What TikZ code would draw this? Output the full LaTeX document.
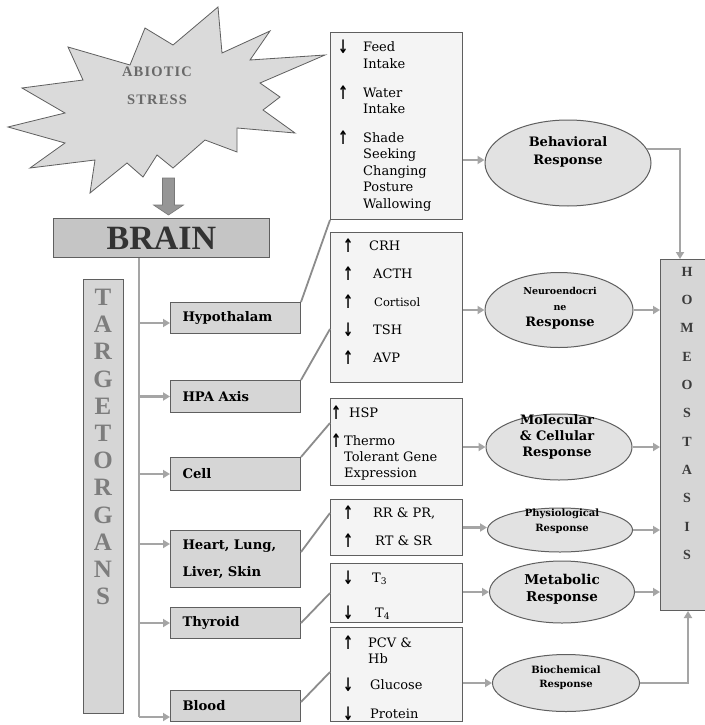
\documentclass[tikz,border=0pt]{standalone}
\usepackage{fontspec}
\usepackage{graphicx}
\setmainfont{DejaVu Serif}
\newfontfamily\timesf{Liberation Serif}
\newfontfamily\stressf{Liberation Serif}[LetterSpace=8]
\newfontfamily\symf{DejaVu Sans}
\usetikzlibrary{arrows.meta,shapes.geometric,calc}

\definecolor{edge}{RGB}{95,95,95}
\definecolor{conn}{RGB}{165,165,165}
\definecolor{slantc}{RGB}{140,140,140}
\definecolor{boxgray}{RGB}{214,214,214}
\definecolor{listgray}{RGB}{244,244,244}
\definecolor{ellgray}{RGB}{226,226,226}
\definecolor{stargray}{RGB}{218,218,218}
\definecolor{lettergray}{RGB}{125,125,125}
\definecolor{homtext}{RGB}{60,60,60}
\definecolor{stresstext}{RGB}{105,105,105}
\definecolor{blockarrow}{RGB}{150,150,150}

% small up / down arrows used in the lists
\newcommand{\upa}{\makebox[10pt]{\raisebox{-2pt}{\scalebox{1.05}[1.55]{\symf\bfseries\fontsize{12}{12}\selectfont ↑}}}}
\newcommand{\dna}{\makebox[10pt]{\raisebox{-2pt}{\scalebox{1.05}[1.55]{\symf\bfseries\fontsize{12}{12}\selectfont ↓}}}}

\begin{document}
\begin{tikzpicture}[x=1pt,y=-1pt,
  organ/.style={draw=edge, line width=1pt, fill=boxgray, anchor=north west,
    align=left, text width=106pt, inner xsep=12pt, inner ysep=0pt,
    font=\bfseries\fontsize{13.2}{27}\selectfont},
  listbox/.style={draw=edge, line width=1pt, fill=listgray, anchor=north west,
    minimum width=132pt, inner sep=0pt},
  listtext/.style={anchor=base west, inner sep=0pt},
  resp/.style={ellipse, draw=edge, line width=1pt, fill=ellgray, inner sep=0pt},
  resptext/.style={align=center, inner sep=0pt},
  garrow/.style={draw=conn, line width=2.6pt, -{Triangle[length=7pt,width=8pt]}},
  gline/.style={draw=conn, line width=2.6pt},
  slant/.style={draw=slantc, line width=1.8pt},
]
\useasboundingbox (0,0) rectangle (704,725);
\fill[white] (0,0) rectangle (704,725);

% ---------- abiotic stress burst ----------
\filldraw[fill=stargray, draw=edge, line width=0.8pt]
  (218,7) -- (222,53) -- (270,31) -- (250,60) -- (325,55) -- (260,83)
  -- (280,97) -- (263,110) -- (295,133) -- (237,128) -- (237,152)
  -- (205,140) -- (173,168) -- (157,155) -- (143,177) -- (127,163)
  -- (90,193) -- (95,160) -- (30,168) -- (65,143) -- (8,127) -- (65,113)
  -- (22,88) -- (83,80) -- (68,47) -- (130,65) -- (145,28) -- (173,45)
  -- cycle;
\node[inner sep=0pt, text=stresstext, font=\stressf\bfseries\fontsize{14.5}{14.5}\selectfont] (abio1) at (157,72) {ABIOTIC};
\node[inner sep=0pt, text=stresstext, font=\stressf\bfseries\fontsize{14.5}{14.5}\selectfont] (abio2) at (157,100) {STRESS};

% ---------- brain ----------
\node[draw=edge, line width=1pt, fill=boxgray!92!black, anchor=north west,
  minimum width=216pt, minimum height=39pt, inner sep=0pt,
  font=\timesf\bfseries\fontsize{34}{34}\selectfont, text=black!80] (brain) at (53,218) {BRAIN};

% block arrow from the burst into the brain
\begin{scope}[shift={(brain.north)}]
  \filldraw[fill=blockarrow, draw=blockarrow!80!black, line width=0.6pt]
    (1,-40) -- (13,-40) -- (13,-13) -- (22,-13) -- (7,-3) -- (-8,-13) -- (1,-13) -- cycle;
\end{scope}

% ---------- target organs column ----------
\node[draw=edge, line width=1pt, fill=boxgray, anchor=north west,
  minimum width=40pt, minimum height=434pt, inner sep=0pt] (tgbox) at (83,279) {};
\node[anchor=north, inner sep=0pt, align=center, text=lettergray,
  font=\timesf\bfseries\fontsize{25}{27.2}\selectfont] (tglbl) at (103,289)
  {T\\A\\R\\G\\E\\T\\O\\R\\G\\A\\N\\S};

% ---------- organs ----------
\node[organ, minimum height=31pt] (hyp) at (170,302) {Hypothalam};
\node[organ, minimum height=32pt] (hpa) at (170,380) {HPA Axis};
\node[organ, minimum height=33pt] (cell) at (170,457) {Cell};
\node[organ, minimum height=57pt] (heart) at (170,530) {Heart, Lung,\\Liver, Skin};
\node[organ, minimum height=31pt] (thy) at (170,607) {Thyroid};
\node[organ, minimum height=31pt] (blood) at (170,690) {Blood};

% trunk from the brain to the organs
\coordinate (trunktop) at ($(brain.south west)+(86,0)$);
\coordinate (trunkbot) at (139,717);
\draw[gline] (trunktop) -- (trunkbot);
\draw[garrow] (trunktop |- 0,323) -- (hyp.west |- 0,323);
\draw[garrow] (trunktop |- hpa.west) -- (hpa.west);
\draw[garrow] (trunktop |- cell.west) -- (cell.west);
\draw[garrow] ($(trunktop |- heart.north west)+(0,14)$) -- ($(heart.north west)+(0,14)$);
\draw[garrow] (trunktop |- thy.west) -- (thy.west);
\draw[garrow] (trunkbot) -- (trunkbot -| blood.west);

% ---------- effect lists ----------
\node[listbox, minimum height=187pt] (b1) at (330,32) {};
\node[listbox, minimum height=150pt] (b2) at (330,232) {};
\node[listbox, minimum height=87pt] (b3) at (330,398) {};
\node[listbox, minimum height=56pt] (b4) at (330,499) {};
\node[listbox, minimum height=59pt] (b5) at (330,563) {};
\node[listbox, minimum height=94pt] (b6) at (330,627) {};

\node[listtext, font=\fontsize{13}{16.5}\selectfont] (b1t) at (338,52)
  {\begin{tabular}[t]{@{}l@{\hspace{15pt}}l@{}}
   \dna & Feed\\ & Intake\\[12pt]
   \upa & Water\\ & Intake\\[12pt]
   \upa & Shade\\ & Seeking\\ & Changing\\ & Posture\\ & Wallowing
   \end{tabular}};
\node[listtext, font=\fontsize{13}{28}\selectfont] (b2t) at (343,250)
  {\begin{tabular}[t]{@{}l@{\hspace{16pt}}l@{}}
   \upa & CRH\\
   \upa & \hspace{4pt}ACTH\\
   \upa & \hspace{5pt}{\fontsize{11.5}{28}\selectfont Cortisol}\\
   \dna & \hspace{4pt}TSH\\
   \upa & \hspace{4pt}AVP
   \end{tabular}};
\node[listtext, font=\fontsize{13}{16}\selectfont] (b3t) at (331,417)
  {\begin{tabular}[t]{@{}l@{\hspace{3pt}}l@{}}
   \upa & \hspace{5pt}HSP\\[12pt]
   \upa & Thermo\\ & Tolerant Gene\\ & Expression
   \end{tabular}};
\node[listtext, font=\fontsize{13}{28}\selectfont] (b4t) at (343,517)
  {\begin{tabular}[t]{@{}l@{\hspace{20pt}}l@{}}
   \upa & RR \& PR,\\
   \upa & \hspace{2pt}RT \& SR
   \end{tabular}};
\node[listtext, font=\fontsize{13}{35}\selectfont] (b5t) at (343,582)
  {\begin{tabular}[t]{@{}l@{\hspace{19pt}}l@{}}
   \dna & T\textsubscript{3}\\
   \dna & \hspace{3pt}T\textsubscript{4}
   \end{tabular}};
\node[listtext, font=\fontsize{13}{16}\selectfont] (b6t) at (343,647)
  {\begin{tabular}[t]{@{}l@{\hspace{15pt}}l@{}}
   \upa & PCV \&\\ & Hb\\[10pt]
   \dna & \hspace{2pt}Glucose\\[13pt]
   \dna & \hspace{2pt}Protein
   \end{tabular}};

% organs feeding the lists
\draw[slant] (hyp.north east) -- (b1.south west);
\draw[slant] (hpa.north east) -- ($(b2.south west)+(0,-54)$);
\draw[slant] (cell.north east) -- ($(b3.north west)+(0,25)$);
\draw[slant] ($(heart.north east)+(0,22)$) -- ($(b4.north west)+(0,14)$);
\draw[slant] (thy.east) -- (b5.west);
\draw[slant] ($(blood.north east)+(0,12)$) -- ($(b6.north west)+(0,45)$);

% ---------- responses ----------
\node[resp, minimum width=166pt, minimum height=86pt] (beh) at (568,163) {};
\node[resp, minimum width=148pt, minimum height=75pt] (neuro) at (559,310) {};
\node[resp, minimum width=146pt, minimum height=66pt] (mol) at (559,447) {};
\node[resp, minimum width=145pt, minimum height=44pt] (phys) at (560,530) {};
\node[resp, minimum width=145pt, minimum height=62pt] (meta) at (562,592) {};
\node[resp, minimum width=147pt, minimum height=57pt] (bio) at (566,683) {};

\node[resptext, font=\bfseries\fontsize{13}{18}\selectfont] (behl) at (568,152) {Behavioral\\Response};
\node[resptext, font=\bfseries\fontsize{13}{16}\selectfont] (neurol) at (560,308)
  {{\fontsize{9.5}{13}\selectfont Neuroendocri}\\{\fontsize{9.5}{13}\selectfont ne}\\Response};
\node[resptext, font=\bfseries\fontsize{13}{16}\selectfont] (moll) at (557,437) {Molecular\\\& Cellular\\Response};
\node[resptext, font=\bfseries\fontsize{10}{15}\selectfont] (physl) at (562,521) {Physiological\\Response};
\node[resptext, font=\bfseries\fontsize{13.5}{17}\selectfont] (metal) at (562,589) {Metabolic\\Response};
\node[resptext, font=\bfseries\fontsize{10}{14}\selectfont] (biol) at (566,678) {Biochemical\\Response};

% lists to responses
\draw[garrow] (b1.east |- 0,160) -- (beh.west |- 0,160);
\draw[garrow] (b2.east |- neuro.west) -- (neuro.west);
\draw[garrow] (b3.east |- mol.west) -- (mol.west);
\draw[garrow] (b4.east) -- (b4.east -| phys.west);
\draw[garrow] (b5.east |- meta.west) -- (meta.west);
\draw[garrow] (b6.east |- bio.west) -- (bio.west);

% ---------- homeostasis ----------
\node[draw=edge, line width=1pt, fill=boxgray, anchor=north west,
  minimum width=50pt, minimum height=351pt, inner sep=0pt] (hom) at (660,259) {};
\node[anchor=north, inner sep=0pt, align=center, text=homtext,
  font=\timesf\bfseries\fontsize{14}{28.3}\selectfont] (homl) at (687,267)
  {H\\O\\M\\E\\O\\S\\T\\A\\S\\I\\S};

\draw[garrow] (beh.10) -| ($(hom.north west)+(20,0)$);
\draw[garrow] (neuro.east) -- (neuro.east -| hom.west);
\draw[garrow] (mol.east) -- (mol.east -| hom.west);
\draw[garrow] (phys.east) -- (phys.east -| hom.west);
\draw[garrow] (meta.east) -- (meta.east -| hom.west);
\draw[garrow] (bio.east) -| ($(hom.south west)+(28,0)$);
\end{tikzpicture}
\end{document}
